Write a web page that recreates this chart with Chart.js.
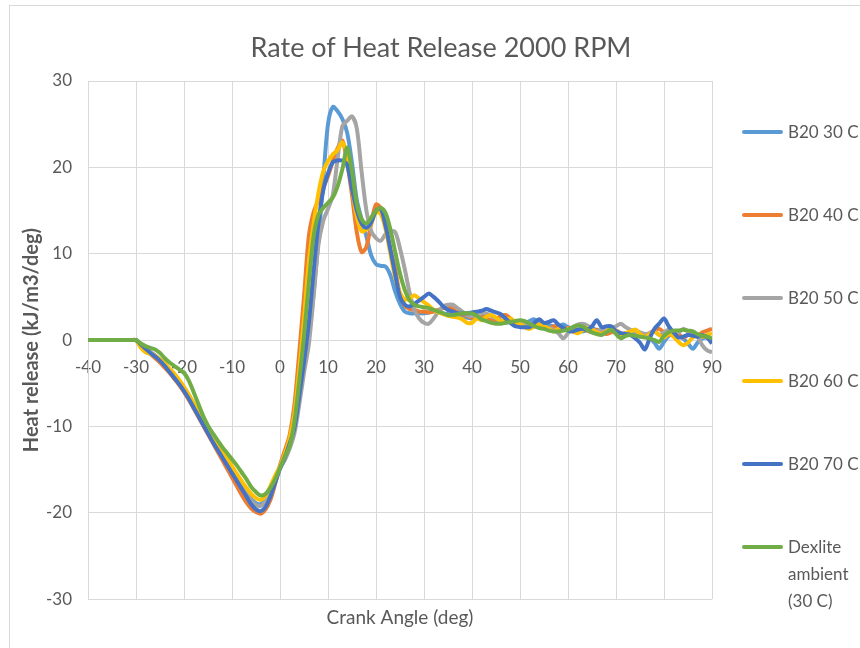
<!DOCTYPE html>
<html>
<head>
<meta charset="utf-8">
<title>Rate of Heat Release 2000 RPM</title>
<script src="https://cdn.jsdelivr.net/npm/chart.js@4.4.1/dist/chart.umd.min.js"></script>
<style>
  html, body { margin: 0; padding: 0; background: #fff; overflow: hidden; }
  #wrap { position: relative; width: 860px; height: 648px; overflow: hidden; }
  #frame { position: absolute; left: 9px; top: 5px; width: 900px; height: 700px; border: 1px solid #d9d9d9; }
  #chart { position: absolute; left: 0; top: 0; }
  #title {
    position: absolute; left: 20px; width: 842px; top: 30px; text-align: center;
    font: 27px Lato, sans-serif; color: #595959;
  }
  .item { position: absolute; left: 742px; display: flex; align-items: flex-start; }
  .item .swatch { width: 41px; height: 4px; margin-top: 12px; border-radius: 2px; }
  .item .txt {
    margin-left: 5px; width: 76px;
    font: 17px Lato, sans-serif; line-height: 27px; color: #595959;
  }
</style>
</head>
<body>
<div id="wrap">
  <div id="frame"></div>
  <canvas id="chart" width="860" height="648"></canvas>
  <div id="title">Rate of Heat Release 2000 RPM</div>
  <div id="legend"></div>
</div>
<script>
/* Rate of heat release vs crank angle, six fuel / temperature runs. */

const FONT = "Lato, sans-serif";
const TEXT = "#595959";
const GRID = "#d9d9d9";

const angles = [
  -40, -39, -38, -37, -36, -35, -34, -33, -32, -31,
  -30, -29, -28, -27, -26, -25, -24, -23, -22, -21,
  -20, -19, -18, -17, -16, -15, -14, -13, -12, -11,
  -10, -9, -8, -7, -6, -5, -4, -3, -2, -1,
  0, 1, 2, 3, 4, 5, 6, 7, 8, 9,
  10, 11, 12, 13, 14, 15, 16, 17, 18, 19,
  20, 21, 22, 23, 24, 25, 26, 27, 28, 29,
  30, 31, 32, 33, 34, 35, 36, 37, 38, 39,
  40, 41, 42, 43, 44, 45, 46, 47, 48, 49,
  50, 51, 52, 53, 54, 55, 56, 57, 58, 59,
  60, 61, 62, 63, 64, 65, 66, 67, 68, 69,
  70, 71, 72, 73, 74, 75, 76, 77, 78, 79,
  80, 81, 82, 83, 84, 85, 86, 87, 88, 89,
  90,
];

const seriesNames = ["B20 30 C", "B20 40 C", "B20 50 C", "B20 60 C", "B20 70 C", "Dexlite ambient (30 C)"];
const seriesColors = ["#5b9bd5", "#ed7d31", "#a5a5a5", "#ffc000", "#4472c4", "#70ad47"];

const b20at30 = [
  0, 0, 0, 0, 0, 0, 0, 0, 0, 0,
  0, -0.5, -1.0, -1.4, -1.8, -2.3, -2.8, -3.4, -4.0, -4.7,
  -5.5, -6.4, -7.4, -8.4, -9.4, -10.4, -11.4, -12.3, -13.2, -14.1,
  -15.0, -15.9, -16.8, -17.7, -18.4, -18.9, -19.0, -18.4, -17.2, -15.9,
  -14.8, -13.7, -12.2, -10.0, -6.5, -2.5, 0.5, 5.5, 11.5, 18.5,
  25.0, 27.0, 26.5, 25.6, 24.0, 20.5, 16.2, 14.0, 12.0, 9.8,
  8.8, 8.6, 8.5, 7.5, 5.6, 4.2, 3.3, 3.1, 3.1, 3.1,
  3.1, 3.2, 3.4, 3.3, 3.1, 3.0, 2.8, 2.7, 2.6, 2.6,
  2.5, 2.6, 2.4, 2.3, 2.2, 2.2, 2.1, 2.0, 2.1, 2.0,
  1.8, 1.9, 2.2, 2.4, 2.0, 1.8, 1.7, 1.6, 1.6, 1.8,
  1.5, 1.3, 1.2, 1.0, 1.2, 1.4, 1.1, 0.8, 1.0, 1.2,
  0.9, 0.6, 0.8, 0.9, 0.7, 0.4, 0.5, 0.2, -0.3, -1.0,
  -0.2, 0.5, 0.8, 0.5, 0.2, -0.4, -1.0, -0.3, 0.2, 0.3,
  0.0,
];

const b20at40 = [
  0, 0, 0, 0, 0, 0, 0, 0, 0, 0,
  0, -0.6, -1.1, -1.6, -2.1, -2.6, -3.2, -3.8, -4.5, -5.2,
  -6.0, -6.9, -7.9, -8.9, -9.9, -10.9, -11.9, -12.9, -13.9, -14.9,
  -15.9, -16.9, -17.9, -18.8, -19.5, -19.9, -20.1, -19.6, -18.5, -16.6,
  -14.5, -12.8, -11.0, -7.5, -1.5, 5.0, 12.0, 14.8, 16.2, 17.6,
  19.0, 20.7, 22.2, 23.1, 20.5, 16.8, 12.5, 10.2, 10.8, 13.5,
  15.7, 15.3, 13.5, 10.5, 8.2, 5.2, 4.0, 3.6, 3.5, 3.3,
  3.3, 3.2, 3.3, 3.5, 3.7, 3.9, 3.6, 3.2, 3.0, 2.8,
  2.6, 2.7, 2.9, 2.5, 2.3, 2.4, 2.8, 2.9, 2.5, 2.0,
  1.9, 2.0, 1.8, 1.6, 1.8, 1.5, 1.3, 1.6, 1.4, 1.2,
  1.4, 1.2, 1.0, 1.3, 1.1, 0.9, 1.2, 1.0, 0.7, 0.9,
  1.1, 0.8, 0.6, 1.0, 1.2, 0.8, 0.5, 0.8, 1.1, 1.3,
  0.9, 0.6, 1.0, 0.7, 0.3, 0.6, 0.8, 0.5, 0.9, 1.1,
  1.3,
];

const b20at50 = [
  0, 0, 0, 0, 0, 0, 0, 0, 0, 0,
  0, -0.5, -1.0, -1.4, -1.8, -2.3, -2.9, -3.5, -4.1, -4.8,
  -5.6, -6.5, -7.5, -8.5, -9.5, -10.5, -11.5, -12.4, -13.3, -14.2,
  -15.1, -16.0, -16.9, -17.8, -18.6, -19.1, -19.2, -18.6, -17.4, -16.0,
  -14.8, -13.9, -12.6, -10.8, -7.5, -3.8, -0.5, 5.0, 11.0, 13.8,
  15.2, 16.8, 21.0, 24.8, 25.4, 25.9, 24.5, 19.5, 15.0, 12.6,
  11.8, 11.5, 12.3, 12.6, 12.5, 10.6, 8.2, 5.5, 3.5, 2.5,
  2.0, 1.9, 2.5, 3.3, 3.9, 4.1, 4.1, 3.7, 3.3, 2.9,
  2.8, 2.9, 3.1, 3.1, 2.8, 2.5, 2.3, 2.3, 2.3, 2.2,
  2.0, 1.8, 1.9, 1.7, 1.6, 1.5, 1.4, 1.2, 0.8, 0.2,
  0.8, 1.5, 1.8, 1.9, 1.7, 1.3, 1.0, 1.3, 1.1, 1.4,
  1.6, 1.9, 1.5, 1.2, 1.0, 0.9, 0.7, 0.8, 1.0, 0.6,
  0.9, 1.2, 1.0, 0.9, 1.3, 1.0, 0.8, 0.4, -0.6, -1.2,
  -1.4,
];

const b20at60 = [
  0, 0, 0, 0, 0, 0, 0, 0, 0, 0,
  0, -0.9, -1.4, -1.6, -1.8, -2.2, -2.7, -3.3, -3.9, -4.6,
  -5.4, -6.3, -7.3, -8.3, -9.3, -10.2, -11.1, -11.9, -12.8, -13.7,
  -14.6, -15.5, -16.3, -17.1, -17.8, -18.3, -18.5, -18.0, -16.9, -15.7,
  -14.6, -13.2, -11.4, -8.5, -3.5, 2.5, 9.0, 13.5, 17.0, 19.5,
  20.7, 21.5, 22.0, 22.9, 21.3, 17.6, 14.3, 12.6, 12.8, 13.5,
  14.8, 14.6, 12.8, 10.0, 7.2, 5.5, 4.7, 4.8, 5.2, 4.8,
  4.4, 4.0, 3.5, 3.2, 3.0, 2.8, 2.7, 2.6, 2.4, 2.0,
  2.0, 2.5, 2.3, 2.7, 2.9, 2.6, 2.2, 2.4, 2.5, 2.1,
  1.9, 1.5, 1.3, 1.6, 1.8, 1.6, 1.3, 1.0, 1.3, 1.1,
  1.3, 1.0, 0.8, 1.1, 1.4, 1.2, 0.9, 0.7, 1.0, 1.3,
  1.0, 0.6, 0.8, 1.0, 1.2, 0.7, 0.4, 0.7, 1.0, 0.6,
  0.3, 0.7, 0.4, -0.2, -0.6, -0.3, 0.3, 0.6, 0.4, 0.6,
  0.8,
];

const b20at70 = [
  0, 0, 0, 0, 0, 0, 0, 0, 0, 0,
  0, -0.5, -1.0, -1.5, -1.9, -2.4, -3.0, -3.7, -4.4, -5.1,
  -5.9, -6.8, -7.8, -8.8, -9.8, -10.8, -11.8, -12.7, -13.6, -14.5,
  -15.4, -16.3, -17.2, -18.1, -19.0, -19.6, -19.8, -19.3, -18.1, -16.5,
  -14.9, -13.6, -12.0, -10.2, -6.5, -2.5, 2.0, 8.0, 13.5, 17.3,
  19.3, 20.6, 20.8, 20.8, 20.3, 17.5, 15.0, 13.5, 13.0, 13.6,
  15.0, 15.2, 13.2, 10.5, 7.6, 5.0, 4.1, 3.9, 4.2, 4.6,
  5.0, 5.4, 5.0, 4.5, 3.9, 3.5, 3.3, 3.1, 3.1, 3.1,
  3.2, 3.3, 3.4, 3.6, 3.4, 3.2, 3.0, 2.5, 2.0, 1.6,
  1.5, 1.5, 1.5, 2.0, 2.4, 2.0, 2.1, 2.3, 1.8, 1.4,
  1.1, 1.0, 1.2, 1.3, 1.2, 1.6, 2.3, 1.5, 1.6, 1.6,
  1.0, 0.8, 0.7, 0.6, 0.2, -0.3, -1.1, 0.2, 1.3, 1.9,
  2.5, 1.6, 0.9, 0.3, 0.4, 0.6, 0.5, 0.4, 0.6, 0.3,
  -0.4,
];

const dexlite = [
  0, 0, 0, 0, 0, 0, 0, 0, 0, 0,
  0, -0.4, -0.7, -0.9, -1.1, -1.5, -2.1, -2.6, -3.0, -3.4,
  -3.8, -4.7, -6.0, -7.4, -8.8, -9.9, -10.8, -11.6, -12.4, -13.1,
  -13.8, -14.5, -15.3, -16.1, -17.0, -17.6, -18.0, -17.8, -17.1, -16.1,
  -14.8, -13.5, -12.3, -9.5, -4.8, 0.5, 6.5, 12.0, 14.5, 15.3,
  15.9, 16.5, 17.8, 19.8, 22.3, 19.5, 15.8, 14.0, 13.5, 14.2,
  15.0, 15.3, 14.7, 12.8, 10.2, 7.7, 5.8, 4.6, 4.1, 3.9,
  3.8, 3.7, 3.5, 3.3, 3.1, 2.9, 2.9, 3.0, 3.1, 3.1,
  3.1, 2.8, 2.4, 2.2, 2.0, 1.9, 1.9, 2.0, 2.1, 2.2,
  2.3, 2.2, 1.9, 1.6, 1.4, 1.3, 1.1, 1.0, 1.0, 1.1,
  1.2, 1.5, 1.7, 1.6, 1.2, 0.9, 0.7, 0.6, 0.9, 1.2,
  0.7, 0.2, 0.5, 0.6, 0.5, 0.4, 0.3, 0.2, 0.0, -0.2,
  0.5, 0.9, 1.1, 1.1, 1.2, 1.1, 1.0, 0.7, 0.5, 0.4,
  0.2,
];

const seriesData = [b20at30, b20at40, b20at50, b20at60, b20at70, dexlite];
const yTicks = [-30, -20, -10, 0, 10, 20, 30];

function buildDatasets() {
  return seriesData.map((values, i) => ({
    label: seriesNames[i],
    data: values,
    borderColor: seriesColors[i],
    backgroundColor: seriesColors[i],
    borderWidth: 4,
    pointRadius: 0,
    tension: 0.3,
    fill: false,
    // Excel draws later series on top
    order: seriesData.length - i,
  }));
}

function renderLegend() {
  const box = document.getElementById("legend");
  box.innerHTML = seriesNames
    .map((name, i) => {
      const top = 118 + i * 83;
      return `<div class="item" style="top:${top}px"><div class="swatch" style="background:${seriesColors[i]}"></div><div class="txt">${name}</div></div>`;
    })
    .join("");
}

new Chart(document.getElementById("chart"), {
  type: "line",
  data: { labels: angles, datasets: buildDatasets() },
  options: {
    responsive: false,
    animation: false,
    layout: { padding: { top: 81, right: 148, left: 0, bottom: 0 } },
    plugins: {
      legend: { display: false },
      tooltip: { enabled: false },
      subtitle: {
        display: true,
        position: "bottom",
        fullSize: false,
        text: "Crank Angle (deg)",
        color: TEXT,
        font: { family: FONT, size: 19, weight: "normal" },
        padding: { top: 7, bottom: 19 },
      },
    },
    scales: {
      x: {
        type: "linear",
        min: -40,
        max: 90,
        position: { y: 0 },
        ticks: { stepSize: 10, color: TEXT, font: { family: FONT, size: 17 }, padding: 17, maxRotation: 0, autoSkip: false },
        grid: { color: GRID, drawTicks: false },
        border: { color: GRID },
      },
      y: {
        min: -30,
        max: 30,
        afterBuildTicks: (s) => { s.ticks = yTicks.map((v) => ({ value: v })); },
        afterFit: (s) => { s.width = 88; },
        ticks: { color: TEXT, font: { family: FONT, size: 17 }, padding: 16 },
        grid: { color: GRID, drawTicks: false },
        border: { color: GRID },
        title: {
          display: true,
          text: "Heat release (kJ/m3/deg)",
          color: TEXT,
          font: { family: FONT, size: 20, weight: "bold" },
          padding: { top: 20, bottom: 0 },
        },
      },
    },
  },
});

renderLegend();
</script>
</body>
</html>
